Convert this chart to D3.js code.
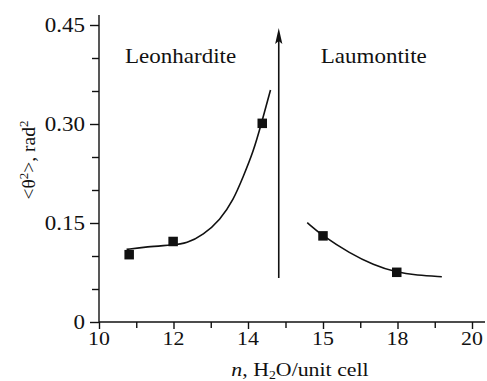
<!DOCTYPE html>
<html><head><meta charset="utf-8">
<script src="https://cdn.jsdelivr.net/npm/d3@7"></script>
<style>
html,body{margin:0;padding:0;background:#fff;}
svg{display:block;}
text{font-family:"Liberation Serif","Times New Roman",serif;fill:#111;}
</style></head>
<body>
<svg id="chart" width="487" height="381"></svg>
<script>
// ---- data ----
const xTickValues = [10, 12, 14, 15, 18, 20];
const xTickLabels = ["10", "12", "14", "15", "18", "20"];
const xMinorTicks = [11, 13, 14.5, 16.5, 19];
const yTickValues = [0, 0.15, 0.30, 0.45];
const yTickLabels = ["0", "0.15", "0.30", "0.45"];
const yMinorTicks = [0.05, 0.10, 0.20, 0.25, 0.35, 0.40];

const leonN = [10.81, 11.99, 14.19];
const leonV = [0.102, 0.122, 0.301];
const leonFitN = [10.74, 11.28, 11.99, 12.35, 12.80, 13.25, 13.61, 13.87, 14.07, 14.18, 14.30];
const leonFitV = [0.110, 0.114, 0.1167, 0.119, 0.132, 0.1545, 0.185, 0.220, 0.2576, 0.301, 0.3515];

const laumN = [15.0, 17.97];
const laumV = [0.1305, 0.0753];
const laumFitN = [14.79, 14.99, 16.09, 17.03, 17.94, 18.52, 19.19];
const laumFitV = [0.1505, 0.1308, 0.104, 0.0864, 0.0753, 0.0708, 0.0686];

const arrowN = 14.41;
const arrowV = [0.0667, 0.4455];

const phaseLabels = ["Leonhardite", "Laumontite"];
const phaseLabelN = [10.7, 14.97];
const phaseLabelV = [0.393, 0.392];

// ---- layout ----
const svg = d3.select("#chart");
const SX = 1.15; // horizontal text stretch of the reference
const x = d3.scaleLinear().domain(xTickValues).range([99, 173.5, 248, 323, 397.5, 472]);
const y = d3.scaleLinear().domain([0, 0.45]).range([322, 25]);

function stretchedText(g, tx, ty, anchor, size) {
  return g.append("text")
    .attr("transform", `translate(${tx},${ty}) scale(${SX},1)`)
    .attr("text-anchor", anchor)
    .style("font-size", size + "px");
}

// axes
const xAxis = svg.append("g").attr("transform", `translate(0,${y(0)})`)
  .call(d3.axisBottom(x).tickValues(xTickValues).tickSize(7).tickFormat(""));
xAxis.select(".domain").attr("d", `M${x(10)},0H485`);
svg.append("g").attr("transform", `translate(0,${y(0)})`)
  .call(d3.axisBottom(x).tickValues(xMinorTicks).tickSize(6).tickFormat(""))
  .select(".domain").remove();

const yAxis = svg.append("g").attr("transform", `translate(${x(10)},0)`)
  .call(d3.axisLeft(y).tickValues(yTickValues).tickSize(9).tickFormat(""));
yAxis.select(".domain").attr("d", `M0,${y(0)}V15`);
svg.append("g").attr("transform", `translate(${x(10)},0)`)
  .call(d3.axisLeft(y).tickValues(yMinorTicks).tickSize(7).tickFormat(""))
  .select(".domain").remove();

svg.selectAll(".domain, .tick line").attr("stroke", "#111").attr("stroke-width", 1.4);

// tick labels
xTickValues.forEach((v, i) => {
  stretchedText(svg, x(v), 345, "middle", 19).text(xTickLabels[i]);
});
yTickValues.forEach((v, i) => {
  stretchedText(svg, 85, y(v) + 6.5, "end", 20).text(yTickLabels[i]);
});

// axis titles
const xt = stretchedText(svg, 300, 376, "middle", 19);
xt.append("tspan").style("font-style", "italic").text("n");
xt.append("tspan").text(", H");
xt.append("tspan").attr("dy", 3).style("font-size", "12px").text("2");
xt.append("tspan").attr("dy", -3).text("O/unit cell");

const yt = svg.append("text")
  .attr("transform", `translate(35,160) rotate(-90)`)
  .attr("text-anchor", "middle").style("font-size", "19.5px");
yt.append("tspan").text("<θ");
yt.append("tspan").attr("dy", -7).style("font-size", "13px").text("2");
yt.append("tspan").attr("dy", 7).text(">, rad");
yt.append("tspan").attr("dy", -7).style("font-size", "13px").text("2");

// fit curves
const line = d3.line().x(d => x(d[0])).y(d => y(d[1])).curve(d3.curveBasis);
svg.append("path").datum(d3.zip(leonFitN, leonFitV)).attr("d", line)
  .attr("fill", "none").attr("stroke", "#111").attr("stroke-width", 1.6);
svg.append("path").datum(d3.zip(laumFitN, laumFitV)).attr("d", line)
  .attr("fill", "none").attr("stroke", "#111").attr("stroke-width", 1.6);

// points
const S = 9.5;
const pts = d3.zip(leonN.concat(laumN), leonV.concat(laumV));
svg.selectAll("rect.pt").data(pts).join("rect").attr("class", "pt")
  .attr("x", d => x(d[0]) - S / 2).attr("y", d => y(d[1]) - S / 2)
  .attr("width", S).attr("height", S).attr("fill", "#111");

// arrow
const ax = x(arrowN), ay0 = y(arrowV[0]), ay1 = y(arrowV[1]);
svg.append("line").attr("x1", ax).attr("x2", ax).attr("y1", ay0).attr("y2", ay1 + 10)
  .attr("stroke", "#111").attr("stroke-width", 1.6);
svg.append("path")
  .attr("d", `M${ax},${ay1} L${ax - 3.6},${ay1 + 16} L${ax},${ay1 + 13} L${ax + 3.6},${ay1 + 16} Z`)
  .attr("fill", "#111");

// phase labels
phaseLabels.forEach((t, i) => {
  stretchedText(svg, x(phaseLabelN[i]), y(phaseLabelV[i]), "start", 20).text(t);
});
</script>
</body></html>
